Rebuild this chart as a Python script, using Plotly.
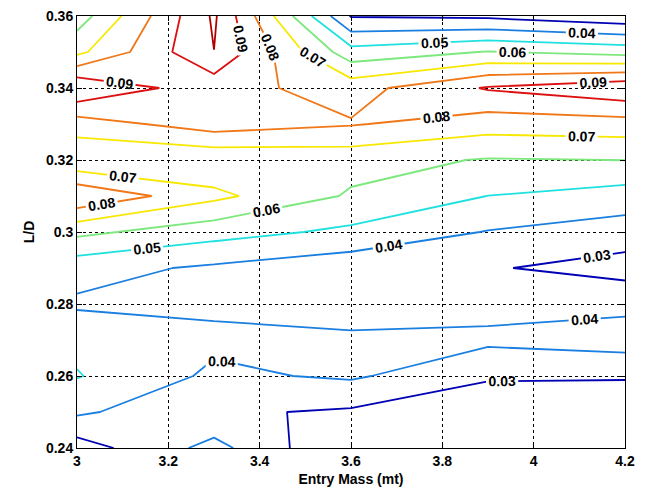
import plotly.graph_objects as go

# Grid of the contour data
entry_mass = [3.0, 3.3, 3.6, 3.9, 4.2]
ld = [0.24, 0.25, 0.26, 0.27, 0.28, 0.29, 0.30, 0.31, 0.32, 0.33, 0.34, 0.35, 0.36]

# One column of values per entry mass, listed from L/D = 0.24 up to 0.36
z_m30 = [0.0251, 0.0417, 0.0506, 0.0475, 0.0385, 0.0437, 0.0625, 0.0890, 0.0615, 0.0750, 0.0995, 0.0674, 0.0548]
z_m33 = [0.0434, 0.0316, 0.0381, 0.0421, 0.0381, 0.0384, 0.0540, 0.0725, 0.0619, 0.0851, 0.0837, 0.0999, 0.1015]
z_m36 = [0.0192, 0.0286, 0.0414, 0.0411, 0.0370, 0.0335, 0.0479, 0.0588, 0.0636, 0.0808, 0.0759, 0.0539, 0.0293]
z_m39 = [0.0170, 0.0184, 0.0320, 0.0419, 0.0370, 0.0309, 0.0395, 0.0499, 0.0593, 0.0745, 0.0910, 0.0605, 0.0280]
z_m42 = [0.0170, 0.0180, 0.0315, 0.0446, 0.0375, 0.0260, 0.0351, 0.0455, 0.0601, 0.0757, 0.0980, 0.0565, 0.0225]

level_start = 0.03
level_end = 0.10
level_step = 0.01
level_colors = ["#0000B4", "#1A7FE0", "#20E0E0", "#7DE87D",
                "#F8E800", "#F07818", "#DC1010", "#B00000"]

x_tick_vals = [3.0, 3.2, 3.4, 3.6, 3.8, 4.0, 4.2]
x_tick_text = ["3", "3.2", "3.4", "3.6", "3.8", "4", "4.2"]
y_tick_vals = [0.24, 0.26, 0.28, 0.30, 0.32, 0.34, 0.36]
y_tick_text = ["0.24", "0.26", "0.28", "0.3", "0.32", "0.34", "0.36"]

z = [list(row) for row in zip(z_m30, z_m33, z_m36, z_m39, z_m42)]

n = len(level_colors) - 1
colorscale = [[i / n, c] for i, c in enumerate(level_colors)]

FONT = "Liberation Sans"

fig = go.Figure(
    go.Contour(
        x=entry_mass,
        y=ld,
        z=z,
        autocontour=False,
        contours=dict(
            coloring="lines",
            start=level_start,
            end=level_end,
            size=level_step,
            showlabels=True,
            labelfont=dict(family=FONT, size=14, color="black", weight="bold"),
            labelformat=".2~g",
        ),
        line=dict(width=1.8, smoothing=0),
        colorscale=colorscale,
        showscale=False,
        hoverinfo="skip",
    )
)

axis_common = dict(
    automargin=False,
    showline=True,
    linecolor="black",
    linewidth=1,
    mirror="ticks",
    ticks="inside",
    ticklen=5,
    tickcolor="black",
    showgrid=True,
    gridcolor="black",
    gridwidth=1,
    griddash="3px,3px",
    zeroline=False,
    tickfont=dict(family=FONT, size=14, color="black", weight="bold"),
)

fig.update_xaxes(
    range=[3.0, 4.2],
    tickvals=x_tick_vals,
    ticktext=x_tick_text,
    title=dict(text="Entry Mass (mt)",
               font=dict(family=FONT, size=14, color="black", weight="bold"),
               standoff=6),
    **axis_common,
)
fig.update_yaxes(
    range=[0.24, 0.36],
    tickvals=y_tick_vals,
    ticktext=y_tick_text,
    title=dict(text="L/D",
               font=dict(family=FONT, size=14, color="black", weight="bold"),
               standoff=8),
    **axis_common,
)

fig.update_layout(
    width=649,
    height=494,
    margin=dict(l=77, r=24, t=16, b=46, autoexpand=False),
    paper_bgcolor="white",
    plot_bgcolor="white",
    showlegend=False,
)

fig.write_html("out.html")
